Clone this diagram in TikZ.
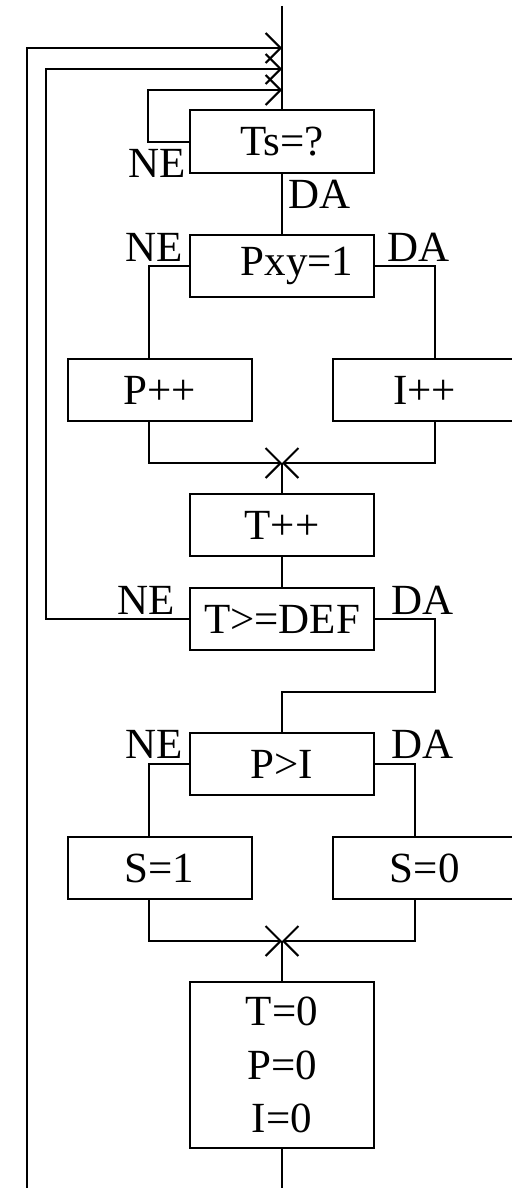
\documentclass[tikz,border=0pt]{standalone}
\usepackage{fontspec}
\setmainfont{Liberation Serif}
\usetikzlibrary{arrows.meta,calc}

\begin{document}
\begin{tikzpicture}[x=0.5pt,y=-0.5pt,line width=1pt,
  box/.style={draw,minimum width=92pt,minimum height=31pt,inner sep=0pt,
    font=\fontsize{21.5}{26.75}\selectfont},
  lbl/.style={inner sep=0pt,font=\fontsize{21.5}{26.75}\selectfont},
  arr/.style={-{Straight Barb[length=7.5pt,width=15pt]}}]
  \useasboundingbox (0,0) rectangle (512,1188);
  % joins on the main line and columns of the branches
  \coordinate (top) at (282,6);
  \coordinate (bot) at (282,1188);
  \coordinate (back) at (27,1188);
  \coordinate (j1) at (282,48);
  \coordinate (j2) at (282,69);
  \coordinate (j3) at (282,90);
  \coordinate (m1) at (282,463);
  \coordinate (m2) at (282,941);
  \coordinate (turn) at (435,692);
  \coordinate (cl) at (149,0);
  \coordinate (cr) at (435,0);
  \coordinate (crr) at (415,0);

  \node[box] (ts) at (282,141.5) {Ts=?};
  \node[box] (pxy) at (282,266) {\hspace{15pt}Pxy=1};
  \node[box] (pinc) at (159.5,390) {P++};
  \node[box] (iinc) at (424.7,390) {I++};
  \node[box] (tinc) at (282,525) {T++};
  \node[box] (tdef) at (282,619) {T>=DEF};
  \node[box] (pgi) at (282,764) {P>I};
  \node[box] (sone) at (159.5,868) {S=1};
  \node[box] (szero) at (424.7,868) {S=0};
  \node[box,minimum height=83pt,align=center] (reset) at (282,1065) {T=0\\P=0\\I=0};

  \node[lbl,anchor=base east] (ts-ne) at ($(ts.west)+(-2,35.5)$) {NE};
  \node[lbl,anchor=base west] (ts-da) at ($(ts.south)+(5,35)$) {DA};
  \node[lbl,anchor=base east] (pxy-ne) at ($(pxy.west)+(-5,-5)$) {NE};
  \node[lbl,anchor=base west] (pxy-da) at ($(pxy.east)+(11,-5)$) {DA};
  \node[lbl,anchor=base east] (tdef-ne) at ($(tdef.west)+(-13,-5)$) {NE};
  \node[lbl,anchor=base west] (tdef-da) at ($(tdef.east)+(15,-5)$) {DA};
  \node[lbl,anchor=base east] (pgi-ne) at ($(pgi.west)+(-5,-6)$) {NE};
  \node[lbl,anchor=base west] (pgi-da) at ($(pgi.east)+(15,-6)$) {DA};

  \draw (top) -- (ts.north);
  \draw[arr] (ts.west) -- ++(-41,0) |- (j3);
  \draw[arr] (tdef.west) -- ++(-143,0) |- (j2);
  \draw[arr] (back) |- (j1);
  \draw (ts.south) -- (pxy.north);
  \draw (pxy.west) -| (pinc.north -| cl);
  \draw (pxy.east) -| (iinc.north -| cr);
  \draw[arr] (pinc.south -| cl) |- (m1);
  \draw[arr] (iinc.south -| cr) |- (m1);
  \draw (m1) -- (tinc.north);
  \draw (tinc.south) -- (tdef.north);
  \draw (tdef.east) -| (turn) -| (pgi.north);
  \draw (pgi.west) -| (sone.north -| cl);
  \draw (pgi.east) -| (szero.north -| crr);
  \draw[arr] (sone.south -| cl) |- (m2);
  \draw[arr] (szero.south -| crr) |- (m2);
  \draw (m2) -- (reset.north);
  \draw (reset.south) -- (bot);
\end{tikzpicture}
\end{document}
